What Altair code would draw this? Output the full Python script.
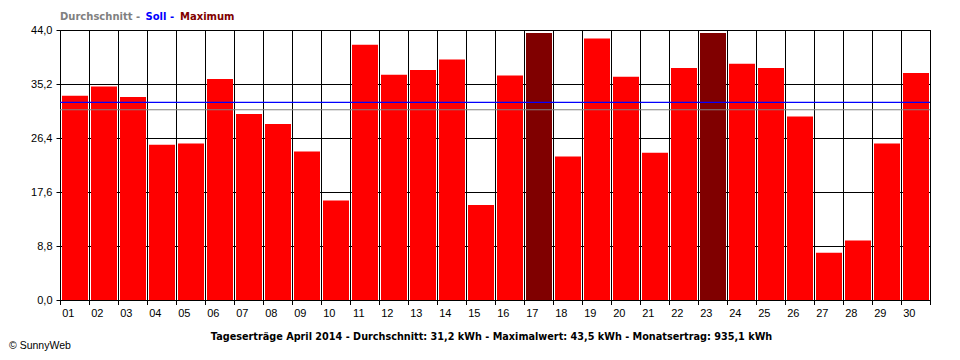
import altair as alt
import pandas as pd

# ---- data ----
tage = [f"{i:02d}" for i in range(1, 31)]
ertrag = [33.3, 34.8, 33.1, 25.3, 25.5, 36.0, 30.3, 28.7, 24.2, 16.2,
          41.6, 36.7, 37.5, 39.2, 15.5, 36.6, 43.5, 23.4, 42.6, 36.4,
          24.0, 37.8, 43.5, 38.5, 37.8, 29.9, 7.7, 9.7, 25.5, 37.0]
maximum_tage = ["17", "23"]
durchschnitt = 31.0
soll = 32.2
y_ticks = [0.0, 8.8, 17.6, 26.4, 35.2, 44.0]
legende_text = ["Durchschnitt -", "Soll -", "Maximum"]
titel = ("Tageserträge April 2014 - Durchschnitt: 31,2 kWh - "
         "Maximalwert: 43,5 kWh - Monatsertrag: 935,1 kWh")
copyright_text = "© SunnyWeb"

df = pd.DataFrame({"tag": tage, "ertrag": ertrag})

FONT = "Liberation Sans"
BOLD_FONT = "DejaVu Sans"
y_scale = alt.Scale(domain=[0, 44], nice=False)

base = alt.Chart(df)

x_enc = alt.X(
    "tag:O",
    scale=alt.Scale(paddingInner=0, paddingOuter=0),
    axis=alt.Axis(title=None, ticks=False, grid=False, labelAngle=0,
                  labelPadding=13, labelFontSize=11, labelColor="black",
                  labelFont=FONT, domainColor="black", zindex=1),
)
y_enc = alt.Y(
    "ertrag:Q", scale=y_scale,
    axis=alt.Axis(title=None, values=y_ticks,
                  labelExpr="replace(format(datum.value, '.1f'), '.', ',')",
                  tickSize=4, tickColor="black", labelPadding=4,
                  labelFontSize=11, labelColor="black", labelFont=FONT,
                  domainColor="black", gridColor="black", gridOpacity=1),
)

grid_v = base.mark_rule(color="black", strokeWidth=1, xOffset=0.5).encode(
    x=alt.X("tag:O", bandPosition=1), y=alt.value(0), y2=alt.value(275))
ticks_v = base.mark_rule(color="black", strokeWidth=1, xOffset=0.5).encode(
    x=alt.X("tag:O", bandPosition=0), y=alt.value(268), y2=alt.value(275))

bars = base.mark_bar(width=26, xOffset=0.5).encode(
    x=x_enc, y=y_enc,
    color=alt.condition(alt.FieldOneOfPredicate(field="tag", oneOf=maximum_tage),
                        alt.value("#800000"), alt.value("#FF0000")),
)

one = alt.Data(values=[{}])
avg_line = alt.Chart(one).mark_rule(color="#808080", strokeWidth=1.2).encode(
    y=alt.Y(datum=durchschnitt, scale=y_scale))
soll_line = alt.Chart(one).mark_rule(color="#0000FF", strokeWidth=1.2).encode(
    y=alt.Y(datum=soll, scale=y_scale))

def txt(text, x, y, color="black", bold=True, size=10, align="left", font=BOLD_FONT):
    return alt.Chart(one).mark_text(
        text=text, align=align, baseline="middle", font=font,
        fontSize=size, fontWeight="bold" if bold else "normal", color=color,
    ).encode(x=alt.value(x), y=alt.value(y))

leg1 = txt(legende_text[0], 0, -13, "#808080")
leg2 = txt(legende_text[1], 85.5, -13, "#0000FF")
leg3 = txt(legende_text[2], 120, -13, "#800000")
title_t = txt(titel, 431.5, 307, align="center", size=9.7)
copy_t = txt(copyright_text, -51, 316, bold=False, size=10.5, font=FONT)

chart = alt.layer(
    grid_v, ticks_v, bars, avg_line, soll_line,
    leg1, leg2, leg3, title_t, copy_t,
).properties(
    width=870, height=270, autosize="none",
    padding={"left": 52, "top": 22, "right": 14, "bottom": 60},
).configure_view(stroke="black", strokeWidth=1)

chart.save("out.html", embed_options={"renderer": "svg", "actions": False})
